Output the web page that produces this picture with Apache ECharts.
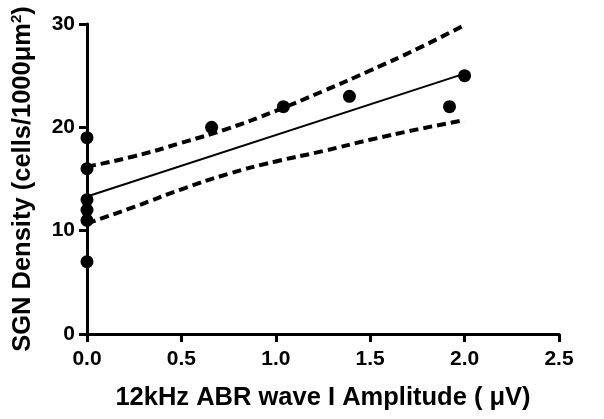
<!DOCTYPE html>
<html><head><meta charset="utf-8">
<script src="https://cdn.jsdelivr.net/npm/echarts@6/dist/echarts.min.js"></script>
<style>html,body{margin:0;padding:0;background:#fff}#c{width:604px;height:419px}</style>
</head><body><div id="c"></div>
<script>
// Data
var pointsX = [0, 0, 0, 0, 0, 0, 0.66, 1.04, 1.39, 1.92, 2.0];
var pointsY = [19, 16, 13, 12, 11, 7, 20, 22, 23, 22, 25];
var fitX = [0, 2.0];
var fitY = [13.3, 25.2];
var bandX = [0, 0.25, 0.5, 0.75, 1.0, 1.25, 1.5, 1.75, 2.0];
var upperY = [16.2, 17.2, 18.5, 19.9, 21.6, 23.5, 25.5, 27.6, 29.9];
var lowerY = [10.7, 12.3, 14.0, 15.5, 16.7, 17.7, 18.8, 19.8, 20.7];
var xTicks = [0, 0.5, 1.0, 1.5, 2.0, 2.5];
var yTicks = [0, 10, 20, 30];

function zip(a, b) { return a.map(function (v, i) { return [v, b[i]]; }); }

var font = 'Liberation Sans, Arial, sans-serif';
var chart = echarts.init(document.getElementById('c'));
chart.setOption({
  animation: false,
  backgroundColor: '#fff',
  grid: { left: 87, right: 45, top: 24, bottom: 85, containLabel: false },
  xAxis: {
    type: 'value', min: xTicks[0], max: xTicks[xTicks.length - 1], interval: 0.5,
    splitLine: { show: false },
    axisLine: { onZero: false, lineStyle: { color: '#000', width: 3 } },
    axisTick: { length: 8, lineStyle: { color: '#000', width: 3 } },
    axisLabel: { color: '#000', fontFamily: font, fontWeight: 'bold', fontSize: 21, margin: 15,
      formatter: function (v) { return v.toFixed(1); } },
    name: '12kHz ABR wave I Amplitude ( μV)', nameLocation: 'middle', nameGap: 51,
    nameTextStyle: { color: '#000', fontFamily: font, fontWeight: 'bold', fontSize: 25.5 }
  },
  yAxis: {
    type: 'value', min: yTicks[0], max: yTicks[yTicks.length - 1], interval: 10,
    splitLine: { show: false },
    axisLine: { onZero: false, lineStyle: { color: '#000', width: 3 } },
    axisTick: { length: 8, lineStyle: { color: '#000', width: 3 } },
    axisLabel: { color: '#000', fontFamily: font, fontWeight: 'bold', fontSize: 21, margin: 12 },
    name: '{a|SGN Density (cells/1000μm}{s|2}{a|)}', nameLocation: 'middle', nameGap: 50,
    nameTextStyle: {
      color: '#000', fontFamily: font, fontWeight: 'bold', fontSize: 25.5,
      rich: {
        a: { color: '#000', fontFamily: font, fontWeight: 'bold', fontSize: 25.5, lineHeight: 28 },
        s: { color: '#000', fontFamily: font, fontWeight: 'bold', fontSize: 15, lineHeight: 28, verticalAlign: 'top', padding: [0, 0, 12, 0] }
      }
    }
  },
  series: [
    { type: 'line', data: zip(bandX, upperY), smooth: true, showSymbol: false, silent: true,
      lineStyle: { color: '#000', width: 4, type: [9, 5] }, z: 2 },
    { type: 'line', data: zip(bandX, lowerY), smooth: true, showSymbol: false, silent: true,
      lineStyle: { color: '#000', width: 4, type: [9, 5] }, z: 2 },
    { type: 'line', data: zip(fitX, fitY), showSymbol: false, silent: true,
      lineStyle: { color: '#000', width: 2 }, z: 2 },
    { type: 'scatter', data: zip(pointsX, pointsY), symbol: 'circle', symbolSize: 13,
      itemStyle: { color: '#000', opacity: 1 }, z: 5 }
  ]
});
</script>
</body></html>
